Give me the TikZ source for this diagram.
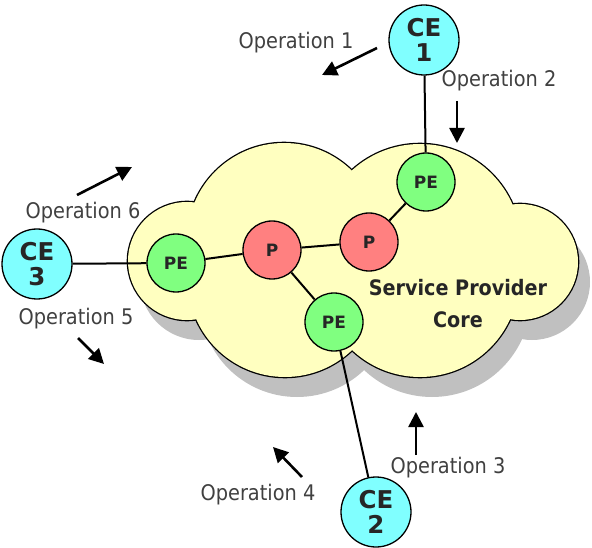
\documentclass[tikz,border=0pt]{standalone}
\usepackage{fontspec}
\setmainfont{DejaVu Sans}
\newfontfamily\opfont{DejaVu Sans}[FakeStretch=0.9]
\usetikzlibrary{arrows.meta}
\definecolor{cefill}{HTML}{80FFFF}
\definecolor{pefill}{HTML}{80FF80}
\definecolor{pfill}{HTML}{FF8080}
\definecolor{cloudfill}{HTML}{FFFFC0}
\definecolor{shadowgray}{HTML}{C0C0C0}
\definecolor{opgray}{HTML}{404040}
\definecolor{coretext}{HTML}{262626}
\newcommand\cloudlobes{187/261/59, 284/240/97, 420/245/101, 520/262/58, 420/278/99, 285/280/97}
\tikzset{
  ce/.style={circle, draw=black, line width=1.3pt, fill=cefill, minimum size=70pt, inner sep=0pt,
    align=center, font=\bfseries\fontsize{24.5}{25}\selectfont, text=black!85},
  pe/.style={circle, draw=black, line width=1.3pt, fill=pefill, minimum size=58pt, inner sep=0pt,
    font=\bfseries\fontsize{17}{18}\selectfont, text=black!85},
  pp/.style={pe, fill=pfill},
  link/.style={line width=2pt, black},
  oplabel/.style={inner sep=0pt, text=opgray, font=\opfont\fontsize{21.5}{24}\selectfont},
  oparrow/.style={line width=2.6pt, -{Triangle[length=15pt,width=15pt]}},
}
\begin{document}
\begin{tikzpicture}[x=1pt,y=-1pt]
\useasboundingbox (0,0) rectangle (592,548);
% cloud shadow
\foreach \cx/\cy/\r in \cloudlobes {
  \fill[shadowgray] (\cx+12,\cy+20) circle[radius=\r];
}
% cloud outline (thick strokes, then fills cover the inner parts)
\foreach \cx/\cy/\r in \cloudlobes {
  \draw[black, line width=2.6pt] (\cx,\cy) circle[radius=\r];
}
\foreach \cx/\cy/\r in \cloudlobes {
  \fill[cloudfill] (\cx,\cy) circle[radius=\r];
}
\node[font=\opfont\bfseries\fontsize{21.3}{32}\selectfont, text=coretext, align=center] (core) at (458,304) {Service Provider\\Core};
% nodes
\node[ce] (ce1) at (424,40) {CE\\1};
\node[ce] (ce2) at (376,512) {CE\\2};
\node[ce] (ce3) at (37,264) {CE\\3};
\node[pe] (pe1) at (426,182) {PE};
\node[pe] (pe2) at (334,322) {PE};
\node[pe] (pe3) at (176,263) {PE};
\node[pp] (p1) at (272,250) {P};
\node[pp] (p2) at (369,242) {P};
% links
\draw[link] (ce1) -- (pe1);
\draw[link] (ce3) -- (pe3);
\draw[link] (pe3) -- (p1);
\draw[link] (p1) -- (p2);
\draw[link] (p2) -- (pe1);
\draw[link] (p1) -- (pe2);
\draw[link] (pe2) -- (ce2);
% operation labels
\node[oplabel] (op1) at (296,43) {Operation 1};
\node[oplabel] (op2) at (499,81) {Operation 2};
\node[oplabel] (op3) at (448,468) {Operation 3};
\node[oplabel] (op4) at (258,495) {Operation 4};
\node[oplabel] (op5) at (76,319) {Operation 5};
\node[oplabel] (op6) at (83,213) {Operation 6};
% arrows
\coordinate (a1s) at (377,48);  \coordinate (a1e) at (322,75);
\coordinate (a2s) at (457,101); \coordinate (a2e) at (457,143);
\coordinate (a3s) at (416,455); \coordinate (a3e) at (416,412);
\coordinate (a4s) at (302,477); \coordinate (a4e) at (273,447);
\coordinate (a5s) at (78,338);  \coordinate (a5e) at (104,364);
\coordinate (a6s) at (77,195);  \coordinate (a6e) at (132,167);
\draw[oparrow] (a1s) -- (a1e);
\draw[oparrow] (a2s) -- (a2e);
\draw[oparrow] (a3s) -- (a3e);
\draw[oparrow] (a4s) -- (a4e);
\draw[oparrow] (a5s) -- (a5e);
\draw[oparrow] (a6s) -- (a6e);
\end{tikzpicture}
\end{document}
